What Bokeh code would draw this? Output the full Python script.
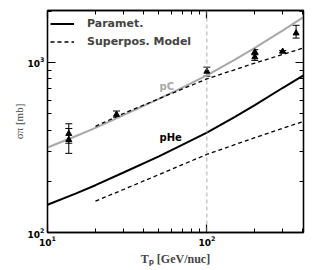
from bokeh.plotting import figure
from bokeh.models import (Range1d, LogAxis, FixedTicker, ColumnDataSource, Whisker,
                          TeeHead, Label, Span, Legend, LegendItem)
from bokeh.embed import file_html
from bokeh.resources import INLINE

# Parametrisation (solid) curves
param_T = [10, 15, 20, 30, 50, 70, 100, 150, 200, 300, 404]
param_pHe = [145.5, 169.4, 189.7, 225.4, 280.5, 327.3, 386.4, 478.6, 561, 709.6, 839.5]
param_pC = [316, 368, 412, 490, 610, 711, 839, 1040, 1219, 1542, 1845]
# Superposition model (dashed) curves
sup_T = [20, 30, 50, 100, 200, 404]
sup_pHe = [153, 179, 219, 288, 361, 450]
sup_pC = [421, 501, 612, 800, 991, 1216]
# pC data points with errors
data_T = [13.6, 13.6, 27.1, 100, 200, 200, 299, 363]
data_sigma = [381, 351, 494, 885, 1150, 1075, 1160, 1486]
data_low = [335, 292, 477, 830, 1110, 1028, 1145, 1390]
data_high = [436, 409, 518, 938, 1189, 1120, 1175, 1653]
# reference line
vline_T = 100
# ticks
x_major = [10, 100]
x_minor = [20, 30, 40, 50, 60, 70, 80, 90, 200, 300, 400]
y_major = [100, 1000]
y_minor = [200, 300, 400, 500, 600, 700, 800, 900, 2000]

GRAY = "#a8a8a8"
SERIF = "Liberation Serif"

p = figure(x_axis_type="log", y_axis_type="log",
           x_range=Range1d(10, 404), y_range=Range1d(100, 2020),
           frame_width=256, frame_height=222,
           min_border_left=47, min_border_right=5, min_border_top=10, min_border_bottom=30,
           output_backend="svg", toolbar_location=None)
p.grid.visible = False
p.outline_line_color = "black"
p.outline_line_width = 1.3

def style_axis(ax, xt, show_labels=True):
    ax.ticker = FixedTicker(ticks=xt[0], minor_ticks=xt[1])
    ax.major_tick_in = 8
    ax.major_tick_out = 0
    ax.minor_tick_in = 4
    ax.minor_tick_out = 0
    ax.major_tick_line_width = 1.2
    ax.minor_tick_line_width = 1
    ax.axis_line_width = 1.3
    ax.major_label_text_font = "DejaVu Sans"
    ax.major_label_text_font_style = "bold"
    ax.major_label_text_color = "black"
    if show_labels:
        ax.major_label_text_font_size = "9px"
        ax.major_label_standoff = 3
    else:
        ax.major_label_text_font_size = "1px"
        ax.major_label_text_alpha = 0
        ax.major_label_standoff = 0

style_axis(p.xaxis[0], (x_major, x_minor))
style_axis(p.yaxis[0], (y_major, y_minor))
p.xaxis[0].axis_label = "Tₚ [GeV/nuc]"
p.xaxis[0].axis_label_text_font = SERIF
p.xaxis[0].axis_label_text_font_style = "bold"
p.xaxis[0].axis_label_text_font_size = "12px"
p.xaxis[0].axis_label_standoff = 3
p.yaxis[0].axis_label = "σπ [mb]"
p.yaxis[0].axis_label_text_font = SERIF
p.yaxis[0].axis_label_text_font_style = "normal"
p.yaxis[0].axis_label_text_font_size = "11px"
p.yaxis[0].axis_label_standoff = 0

top = LogAxis()
style_axis(top, (x_major, x_minor), False)
right = LogAxis()
style_axis(right, (y_major, y_minor), False)
p.add_layout(top, "above")
p.add_layout(right, "right")

p.add_layout(Span(location=vline_T, dimension="height", line_color="#999999",
                  line_dash="4 3", line_width=0.8))

r_pC = p.line(param_T, param_pC, line_color=GRAY, line_width=2)
r_pHe = p.line(param_T, param_pHe, line_color="black", line_width=2)
r_spC = p.line(sup_T, sup_pC, line_color="black", line_width=1.3, line_dash="4 3")
r_spHe = p.line(sup_T, sup_pHe, line_color="black", line_width=1.3, line_dash="4 3")

src = ColumnDataSource(dict(x=data_T, y=data_sigma, lo=data_low, hi=data_high))
p.add_layout(Whisker(source=src, base="x", upper="hi", lower="lo", line_color="black",
                     line_width=1,
                     upper_head=TeeHead(size=7, line_color="black", line_width=1),
                     lower_head=TeeHead(size=7, line_color="black", line_width=1)))
p.scatter("x", "y", source=src, marker="triangle", size=6, color="black")

legend = Legend(items=[LegendItem(label="Paramet.", renderers=[r_pHe]),
                       LegendItem(label="Superpos. Model", renderers=[r_spHe])],
                location=(3, 183), margin=0, padding=6, spacing=3,
                label_height=15, glyph_height=15, glyph_width=24, label_standoff=13,
                label_text_font="DejaVu Sans", label_text_font_style="bold",
                label_text_font_size="11px", border_line_color=None,
                background_fill_alpha=0)
p.add_layout(legend)

p.add_layout(Label(x=112, y=146, x_units="screen", y_units="screen", text="pC",
                   text_color=GRAY, text_font="DejaVu Sans", text_font_style="bold",
                   text_font_size="10px", text_baseline="middle"))
p.add_layout(Label(x=112, y=95, x_units="screen", y_units="screen", text="pHe",
                   text_color="black", text_font="DejaVu Sans", text_font_style="bold",
                   text_font_size="10px", text_baseline="middle"))

open("out.html", "w").write(file_html(p, INLINE))
